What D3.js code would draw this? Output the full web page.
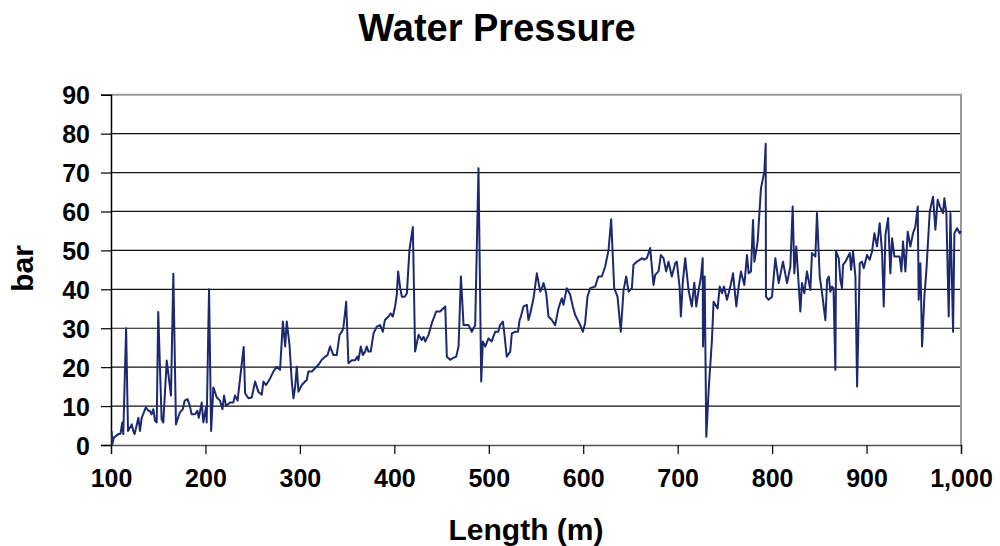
<!DOCTYPE html>
<html>
<head>
<meta charset="utf-8">
<script src="https://cdn.jsdelivr.net/npm/d3@7"></script>
<style>
  html, body { margin: 0; padding: 0; background: #fff; }
  svg text { font-family: "Liberation Sans", Arial, sans-serif; font-weight: bold; fill: #000; }
</style>
</head>
<body>
<svg id="chart" width="1000" height="546"></svg>
<script>
const title = "Water Pressure";
const xLabel = "Length (m)";
const yLabel = "bar";
const xTicks = [100, 200, 300, 400, 500, 600, 700, 800, 900, 1000];
const yTicks = [0, 10, 20, 30, 40, 50, 60, 70, 80, 90];

const lengths = [
  100.7,101.4,103,107.8,110,112,113,116,118,122,123.6,125,129,130.7,132.5,134,137,139.5,141,143,
  144.8,146.6,148.4,150,153.6,155.4,159,160.7,163.5,166,168.8,171,173,176,178,181,183,185.4,189,191.4,
  193,196,197.8,200.6,201.3,203.8,206,208.4,212,215.4,218,219.7,221.8,226,229.5,231.3,234,240.5,242,245.5,
  249,252.6,256,259.6,261.4,264.2,268.5,272,275.5,279,282,284.4,286.1,289,291.4,293.2,295,296.7,298.5,302,
  305.5,307.3,309,312.6,316,319.7,323.2,326.7,329.2,332,335.5,339,342,344.4,346,349,351.4,355,358.5,361,
  362,364.5,366.6,369,370.8,372.6,375,378,381.4,385,387.8,390,393.8,396,398.4,400.8,402.6,404,406.2,408,
  411,413.3,416,419.6,422,425.6,429,431,432.7,436.2,439.7,444.3,448.5,453.9,455.6,459.1,462,465.5,468,470.5,
  473.3,478.6,482,485.6,489.1,492,493.7,496.2,499.7,503,506.8,510,512,514.9,516.3,519,522.7,524.4,528,531,
  532.6,534,536.8,540.3,542,543.9,547.4,550.9,554.5,556.2,558,560.8,563.2,566.8,570.3,573.8,577.3,579,582.6,586.2,
  589,591.5,595,596.8,599.6,602,604.5,607.4,612.6,616,619.7,623.2,626.8,629.6,632.8,636.3,639.8,642.7,645.5,648,
  651.5,653.2,656.8,660.3,662,664.5,667.4,670.9,674.4,676.2,679.7,682.2,685,687.8,690.3,693.8,697.4,699.1,702,703.4,
  705.5,708,711.5,715,717.6,719.7,722,724.7,726.5,726.8,728.6,730.3,732.8,736.3,738,742.3,744.5,747,749,752.2,
  755.8,758.6,762.1,764.6,767,770.6,773.4,775.2,777.6,779.8,781.2,784.7,788.2,791.8,793.2,793.5,796.3,799.9,803.4,807,
  811.5,815.8,819.3,821.8,823.5,825.6,829.9,831.6,834.1,836.9,840.5,842.2,845.8,847.5,850.4,852.9,856.4,858.2,860,861.7,
  863.5,865,867,867.7,870.5,872.3,874,875.1,877.6,882.2,883.6,885.7,888.2,890,892.8,895.2,897,900.5,903.3,905.8,
  908.3,911.1,913.9,916.4,918.2,920,922.8,925.2,927,929.5,935,936.9,938.6,941.1,943.6,946.4,949.2,951.7,954.2,955.2,
  957,958.8,961.2,963.4,966.9,970.4,972.9,975.3,977.5,981,982.4,984.5,987,988.8,991.6,993,995.8,998.6,1000
];
const pressures = [
  3.6,0.2,1.9,2.8,2.9,5.8,2.8,30,3.6,5.3,3.6,2.8,7,3.6,7,7.9,9.7,8.8,8.8,7.9,
  9.2,6.2,5.8,34.2,6.6,5.8,21.7,18.3,12.7,44,5.3,7,8.4,9.2,11.4,11.8,10.5,7.9,7.9,8.8,
  7,10.9,5.8,9.7,5.8,40,3.6,14.8,12.2,11.4,9.2,12.7,10,10.9,10.9,12.7,11.4,25.2,13.3,12,
  12.2,16.3,13.7,12.9,16.3,15.4,17.1,18.9,20.1,19.3,31.7,25.3,31.7,25.7,16.3,12,15,20.1,13.7,15.4,
  16.3,16.7,18.9,18.9,19.7,20.6,21.9,22.7,23.1,25.3,23.1,23.1,28.3,29.1,30,36.8,21,21.8,21.8,22.7,
  21.8,25.3,23.1,24,25.3,24,24,28.7,30.4,30.8,29.1,32.1,33,33.8,33,35.6,38.6,44.6,40.3,38.1,
  38.1,39,50.1,56,24,28.3,27,27.8,26.6,28.3,31.3,34.3,34.3,35.6,22.7,21.9,22.3,22.7,25.3,43.3,
  30.8,30.8,29.1,30.8,71.1,16.3,26.6,25.3,27.4,26.6,29.1,29.1,30.8,31.7,29.1,22.7,24,28.7,29.1,29.1,
  32.1,33,35.6,36,32.1,33.8,37.7,44.1,39.4,40.3,41.6,39,33,32.1,30.8,35.1,37.7,36,40.3,38.6,
  35.6,33.4,31.7,30.8,29.1,31.3,38.1,40.3,40.7,43.3,43.3,45.8,50.1,58,40.3,38.1,29.1,39.8,43.3,39.4,
  40.3,46.3,47.1,47.6,48,47.6,48,50.6,41.1,43.7,44.6,48.8,48,44.6,47.1,43.3,46.7,47.1,40.7,33,
  42,48,39.8,35.6,41.7,35.6,39.5,43.3,48,25.3,43.3,2.1,14.1,27,36.8,35.1,40.7,39,40.7,37.3,
  40.7,44.1,35.6,40.7,44.6,41.1,48.8,44.1,44.6,57.8,47.1,52.3,66,70.3,77.4,38.1,37.3,38.1,48,41.6,
  47.1,41.6,45.8,61.3,44.1,51,34.3,41.6,39,44.6,39.8,49.3,48.4,59.6,43.3,39,32.1,42.4,43.3,39.4,
  40.7,40.3,19.3,49.7,48,42.4,40.3,46.3,47.1,49.3,45,49.7,43.3,15,46.7,47.1,45.4,48.8,47.6,49.7,
  54.4,51,57,49.7,35.6,54,58.3,44.1,53.1,48.4,48.4,44.6,52.3,44.6,54.8,51,54.4,56.1,61.3,37.3,
  46.7,25.3,38.1,45,60,63.8,55.3,63,61.3,59.6,63.4,59.6,33,59.6,29.1,54.4,55.7,54.4,55
];

const svg = d3.select("#chart");
const x = d3.scaleLinear().domain([100, 1000]).range([111, 961]);
const y = d3.scaleLinear().domain([0, 90]).range([445, 94.7]);

// gridlines
svg.append("g").selectAll("line").data(yTicks.filter(t => t > 0 && t < 90)).join("line")
  .attr("x1", x(100)).attr("x2", x(1000))
  .attr("y1", d => y(d)).attr("y2", d => y(d))
  .attr("stroke", "#111").attr("stroke-width", 1.2);

// plot border (top & right)
svg.append("path")
  .attr("d", `M${x(100)},${y(90)}H${x(1000)}V${y(0)}`)
  .attr("fill", "none").attr("stroke", "#999").attr("stroke-width", 2);

// axes
const yAxis = d3.axisLeft(y).tickValues(yTicks).tickSize(10).tickPadding(11);
const gy = svg.append("g").attr("transform", `translate(${x(100)},0)`).call(yAxis);
gy.select(".domain").attr("stroke", "#000").attr("stroke-width", 1.5);
gy.selectAll(".tick line").attr("stroke", "#000").attr("stroke-width", 1.2);
gy.selectAll(".tick text").style("font-size", "25px").attr("fill", "#000").attr("dy", "0.36em");

const xAxis = d3.axisBottom(x).tickValues(xTicks).tickSize(9).tickPadding(15)
  .tickFormat(d3.format(","));
const gx = svg.append("g").attr("transform", `translate(0,${y(0)})`).call(xAxis);
gx.select(".domain").attr("stroke", "#555").attr("stroke-width", 1.5);
gx.selectAll(".tick line").attr("stroke", "#000").attr("stroke-width", 1.2);
gx.selectAll(".tick text").style("font-size", "25px").attr("fill", "#000");
gy.select(".domain").raise();

// data line
const line = d3.line().x((d, i) => x(lengths[i])).y(d => y(d));
svg.append("path").datum(pressures)
  .attr("d", line)
  .attr("fill", "none").attr("stroke", "#1c2870").attr("stroke-width", 2)
  .attr("stroke-linejoin", "round");

// titles
svg.append("text").attr("x", 497).attr("y", 41).attr("text-anchor", "middle")
  .style("font-size", "38px").text(title);
svg.append("text").attr("x", 526).attr("y", 540).attr("text-anchor", "middle")
  .style("font-size", "30px").text(xLabel);
svg.append("text").attr("transform", "translate(33,268.5) rotate(-90)")
  .attr("text-anchor", "middle").style("font-size", "30px").text(yLabel);
</script>
</body>
</html>
